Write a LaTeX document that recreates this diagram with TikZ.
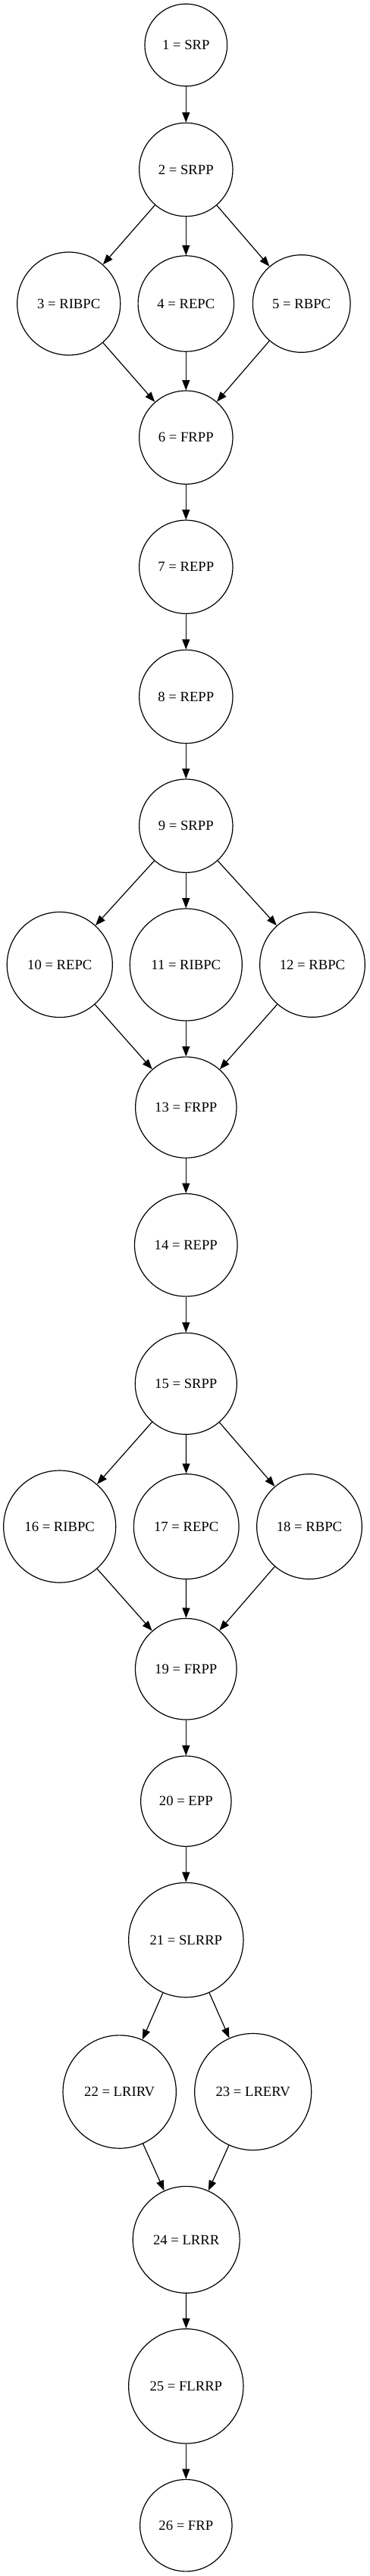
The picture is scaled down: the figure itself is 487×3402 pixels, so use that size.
\documentclass[tikz,border=0pt]{standalone}
\usepackage{fontspec}
\setmainfont{Liberation Serif}
\usetikzlibrary{arrows.meta}
\begin{document}
\begin{tikzpicture}[x=0.75pt,y=-0.75pt,
  nd/.style={draw,circle,inner sep=0pt,line width=0.9pt,font=\fontsize{14pt}{16pt}\selectfont},
  edge/.style={line width=0.9pt,-{Triangle[length=10pt,width=7.5pt]}}]
\useasboundingbox (0,0) rectangle (487,3402);
\node[nd,minimum size=81.5pt]  (n1)  at (245.3,59.5)   {1 = SRP};
\node[nd,minimum size=92.5pt]  (n2)  at (245.3,224)    {2 = SRPP};
\node[nd,minimum size=102pt]   (n3)  at (90.7,401)     {3 = RIBPC};
\node[nd,minimum size=94.8pt]  (n4)  at (245.3,401)    {4 = REPC};
\node[nd,minimum size=96.5pt]  (n5)  at (397.7,401)    {5 = RBPC};
\node[nd,minimum size=92.5pt]  (n6)  at (245.3,577.7)  {6 = FRPP};
\node[nd,minimum size=92.5pt]  (n7)  at (245.3,748.7)  {7 = REPP};
\node[nd,minimum size=92.5pt]  (n8)  at (245.3,920)    {8 = REPP};
\node[nd,minimum size=92.5pt]  (n9)  at (245.3,1090.7) {9 = SRPP};
\node[nd,minimum size=104.3pt] (n10) at (78.8,1274)    {10 = REPC};
\node[nd,minimum size=111pt]   (n11) at (245.3,1274)   {11 = RIBPC};
\node[nd,minimum size=104pt]   (n12) at (412,1274)     {12 = RBPC};
\node[nd,minimum size=100pt]   (n13) at (245.3,1462.5) {13 = FRPP};
\node[nd,minimum size=101.7pt] (n14) at (245.3,1644.3) {14 = REPP};
\node[nd,minimum size=100.5pt] (n15) at (245.3,1827.3) {15 = SRPP};
\node[nd,minimum size=111pt]   (n16) at (78.7,2016)    {16 = RIBPC};
\node[nd,minimum size=104pt]   (n17) at (245.7,2016)   {17 = REPC};
\node[nd,minimum size=104pt]   (n18) at (408,2016)     {18 = RBPC};
\node[nd,minimum size=100.2pt] (n19) at (245.3,2204.2) {19 = FRPP};
\node[nd,minimum size=89.5pt]  (n20) at (245.3,2378.7) {20 = EPP};
\node[nd,minimum size=113.5pt] (n21) at (245.3,2562)   {21 = SLRRP};
\node[nd,minimum size=112pt]   (n22) at (157.7,2762.5) {22 = LRIRV};
\node[nd,minimum size=115.5pt] (n23) at (333.7,2762.5) {23 = LRERV};
\node[nd,minimum size=105.7pt] (n24) at (245.7,2957.8) {24 = LRRR};
\node[nd,minimum size=113.5pt] (n25) at (245.3,3151.3) {25 = FLRRP};
\node[nd,minimum size=91pt]    (n26) at (245.3,3335.2) {26 = FRP};
\draw[edge] (n1) -- (n2);
\draw[edge] (n2) -- (n3);
\draw[edge] (n2) -- (n4);
\draw[edge] (n2) -- (n5);
\draw[edge] (n3) -- (n6);
\draw[edge] (n4) -- (n6);
\draw[edge] (n5) -- (n6);
\draw[edge] (n6) -- (n7);
\draw[edge] (n7) -- (n8);
\draw[edge] (n8) -- (n9);
\draw[edge] (n9) -- (n10);
\draw[edge] (n9) -- (n11);
\draw[edge] (n9) -- (n12);
\draw[edge] (n10) -- (n13);
\draw[edge] (n11) -- (n13);
\draw[edge] (n12) -- (n13);
\draw[edge] (n13) -- (n14);
\draw[edge] (n14) -- (n15);
\draw[edge] (n15) -- (n16);
\draw[edge] (n15) -- (n17);
\draw[edge] (n15) -- (n18);
\draw[edge] (n16) -- (n19);
\draw[edge] (n17) -- (n19);
\draw[edge] (n18) -- (n19);
\draw[edge] (n19) -- (n20);
\draw[edge] (n20) -- (n21);
\draw[edge] (n21) -- (n22);
\draw[edge] (n21) -- (n23);
\draw[edge] (n22) -- (n24);
\draw[edge] (n23) -- (n24);
\draw[edge] (n24) -- (n25);
\draw[edge] (n25) -- (n26);
\end{tikzpicture}
\end{document}
